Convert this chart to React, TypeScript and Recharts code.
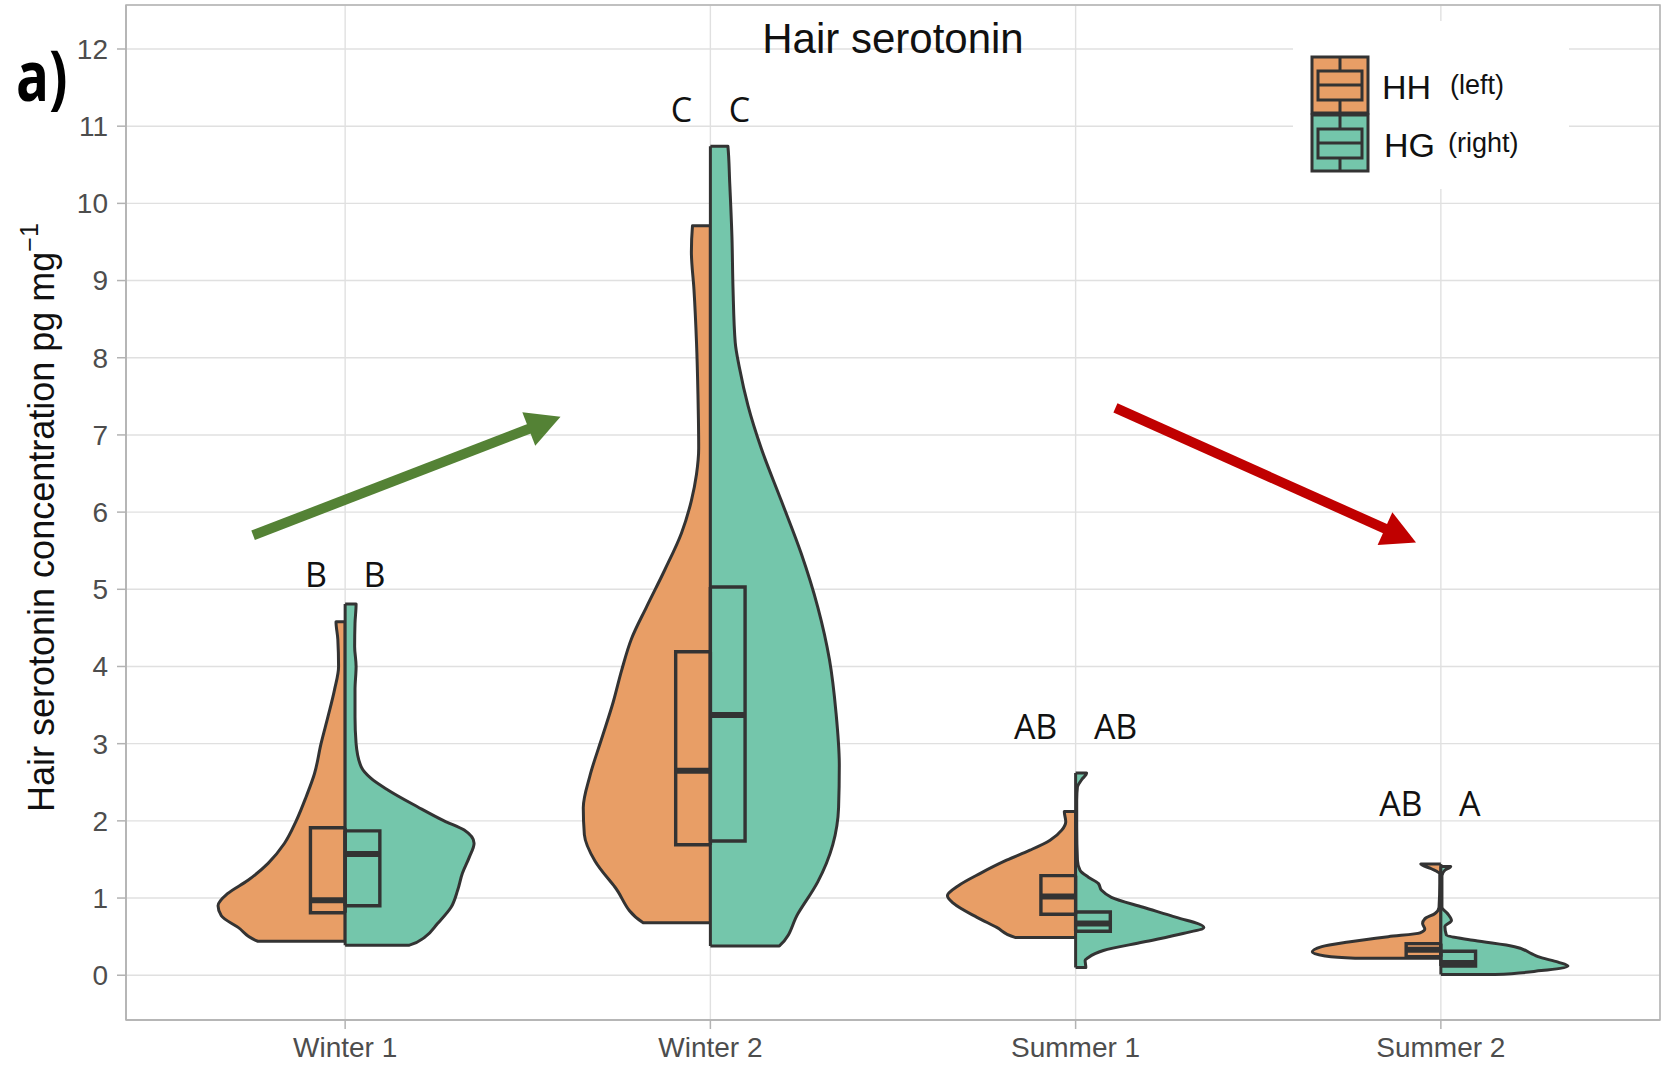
import { Area, CartesianGrid, ComposedChart, Legend, Line, ReferenceArea, XAxis, YAxis } from 'recharts';

const seasons = ['Winter 1', 'Winter 2', 'Summer 1', 'Summer 2'];
const groups = ['HH', 'HG'];
const groupNotes = ['(left)', '(right)'];
const groupFill = ['#E89E66', '#74C6AB'];
const yTicks = [0, 1, 2, 3, 4, 5, 6, 7, 8, 9, 10, 11, 12];

// violin outlines, bottom to top: [concentration, half width in category units]
const winter1HH = [[0.44, 0.239], [0.62, 0.293], [0.77, 0.339], [0.9, 0.348], [1.06, 0.321], [1.23, 0.266], [1.45, 0.211], [1.71, 0.166], [2.0, 0.134], [2.31, 0.107], [2.61, 0.084], [3.0, 0.066], [3.35, 0.047], [3.7, 0.029], [4.0, 0.018], [4.35, 0.02], [4.58, 0.025]];
const winter1HG = [[0.39, 0.176], [0.49, 0.217], [0.67, 0.253], [0.88, 0.29], [1.1, 0.308], [1.32, 0.321], [1.53, 0.34], [1.71, 0.353], [1.88, 0.326], [2.0, 0.271], [2.18, 0.199], [2.4, 0.117], [2.55, 0.071], [2.7, 0.044], [3.0, 0.03], [3.35, 0.027], [3.7, 0.027], [4.0, 0.03], [4.26, 0.026], [4.56, 0.027], [4.81, 0.03]];
const winter2HH = [[0.68, 0.184], [1.14, 0.261], [1.48, 0.316], [1.82, 0.345], [2.17, 0.348], [2.58, 0.33], [3.06, 0.298], [3.54, 0.266], [3.95, 0.243], [4.36, 0.216], [4.77, 0.175], [5.25, 0.125], [5.73, 0.079], [6.15, 0.052], [6.49, 0.038], [6.83, 0.032], [7.52, 0.034], [8.2, 0.038], [8.89, 0.045], [9.37, 0.052], [9.71, 0.049]];
const winter2HG = [[0.38, 0.189], [0.8, 0.24], [1.21, 0.294], [1.69, 0.335], [2.17, 0.351], [2.72, 0.353], [3.4, 0.344], [4.09, 0.326], [4.77, 0.294], [5.46, 0.249], [6.15, 0.194], [6.83, 0.139], [7.38, 0.103], [7.86, 0.08], [8.2, 0.068], [8.89, 0.062], [9.57, 0.059], [10.26, 0.053], [10.74, 0.048]];
const summer1HH = [[0.49, 0.166], [0.62, 0.216], [0.75, 0.27], [0.93, 0.334], [1.03, 0.351], [1.16, 0.321], [1.32, 0.261], [1.49, 0.189], [1.62, 0.125], [1.75, 0.07], [1.88, 0.038], [1.99, 0.027], [2.12, 0.031]];
const summer1HG = [[0.1, 0.028], [0.19, 0.026], [0.23, 0.035], [0.32, 0.076], [0.43, 0.185], [0.54, 0.294], [0.62, 0.351], [0.75, 0.276], [0.88, 0.185], [1.01, 0.098], [1.1, 0.071], [1.19, 0.062], [1.27, 0.035], [1.36, 0.012], [1.49, 0.005], [1.92, 0.003], [2.27, 0.003], [2.44, 0.005], [2.53, 0.016], [2.62, 0.03]];
const summer2HH = [[0.22, 0.235], [0.25, 0.317], [0.3, 0.352], [0.37, 0.326], [0.43, 0.253], [0.5, 0.144], [0.55, 0.057], [0.6, 0.044], [0.67, 0.05], [0.73, 0.044], [0.8, 0.016], [0.88, 0.005], [1.19, 0.003], [1.31, 0.003], [1.38, 0.026], [1.44, 0.055]];
const summer2HG = [[0.01, 0.148], [0.06, 0.275], [0.12, 0.348], [0.17, 0.321], [0.24, 0.266], [0.28, 0.248], [0.37, 0.202], [0.45, 0.093], [0.52, 0.015], [0.63, 0.011], [0.71, 0.029], [0.8, 0.018], [0.88, 0.003], [1.29, 0.003], [1.36, 0.011], [1.41, 0.027]];

// box plot stats per season
const hhQ1 = [0.81, 1.69, 0.79, 0.24];
const hhMedian = [0.97, 2.65, 1.02, 0.33];
const hhQ3 = [1.91, 4.19, 1.29, 0.41];
const hgQ1 = [0.9, 1.74, 0.57, 0.12];
const hgMedian = [1.57, 3.37, 0.67, 0.16];
const hgQ3 = [1.87, 5.03, 0.82, 0.31];

// significance letters (HH, HG per season)
const letters = ['B', 'B', 'C', 'C', 'AB', 'AB', 'AB', 'A'];
const letterY = [5.03, 5.03, 11.05, 11.05, 3.06, 3.06, 2.06, 2.06];

// trend arrows
const trendUp = [{ y: 5.7, v: 0.748 }, { y: 7.18, v: 1.559 }];
const trendDown = [{ y: 7.35, v: 3.109 }, { y: 5.67, v: 3.902 }];

const SIDE = [-1, 1];
const BOX_W = 0.095;
const LETTER_GAP = 0.05;
const INK = '#333333';

const profiles = [[winter1HH, winter1HG], [winter2HH, winter2HG], [summer1HH, summer1HG], [summer2HH, summer2HG]];
const q1s = [hhQ1, hgQ1];
const medians = [hhMedian, hgMedian];
const q3s = [hhQ3, hgQ3];

const violinRows = (profile: number[][], c: number, side: number) => [
  { y: profile[0][0], span: [c, c] },
  ...profile.map(([y, w]) => ({ y, span: [c, c + side * w] })),
  { y: profile[profile.length - 1][0], span: [c, c] },
];

const boxRows = (q1: number, q3: number, c: number, side: number) => [
  { y: q1, span: [c, c] },
  { y: q1, span: [c, c + side * BOX_W] },
  { y: q3, span: [c, c + side * BOX_W] },
  { y: q3, span: [c, c] },
];

const letterRows = letters.map((t, i) => {
  const side = SIDE[i % 2];
  return { y: letterY[i], v: Math.floor(i / 2) + 1 + side * LETTER_GAP, t, side };
});

const renderLetter = (p: any) => (
  <text key={`letter-${p.index}`} x={p.cx} y={p.cy} textAnchor={p.payload.side < 0 ? 'end' : 'start'}
    fontSize={34} fontFamily="Open Sans" fill="#111">
    {p.payload.t}
  </text>
);

const arrowHead = (color: string) => (p: any) => {
  if (p.index === 0) return <g key={`ah-${p.index}`} />;
  const prev = p.points ? p.points[p.index - 1] : null;
  const deg = prev ? (Math.atan2(p.cy - prev.y, p.cx - prev.x) * 180) / Math.PI : 0;
  return (
    <polygon key={`ah-${p.index}`} points="12,0 -22,-18 -22,18" fill={color}
      transform={`translate(${p.cx},${p.cy}) rotate(${deg})`} />
  );
};

const tickStyle = { fill: '#4d4d4d', fontSize: 28, fontFamily: 'Liberation Sans, Arial, sans-serif' };

const LegendBox = () => (
  <svg width={276} height={168} style={{ background: '#fff', display: 'block' }}>
    {groups.map((g, i) => {
      const top = 36 + i * 58;
      return (
        <g key={g}>
          <rect x={19} y={top} width={56} height={56} fill={groupFill[i]} stroke={INK} strokeWidth={3} />
          <line x1={47} x2={47} y1={top} y2={top + 56} stroke={INK} strokeWidth={3} />
          <rect x={25} y={top + 14} width={44} height={29} fill={groupFill[i]} stroke={INK} strokeWidth={3} />
          <line x1={25} x2={69} y1={top + 28} y2={top + 28} stroke={INK} strokeWidth={3} />
          <text x={89 + i * 2} y={top + 42} fontSize={34} fontFamily="Liberation Sans, Arial" fill="#111">{g}</text>
          <text x={157 - i * 2} y={top + 37} fontSize={27} fontFamily="Liberation Sans, Arial" fill="#111">{groupNotes[i]}</text>
        </g>
      );
    })}
  </svg>
);

export default function App() {
  return (
    <div style={{ position: 'absolute', left: 0, top: 0, width: 1676, height: 1072, background: '#fff' }}>
      <ComposedChart width={1676} height={1072} layout="vertical" margin={{ top: 5, right: 16, bottom: 0, left: 0 }}>
        <CartesianGrid stroke="#e0e0e0" strokeWidth={1.4} />
        <XAxis type="number" domain={[0.4, 4.6]} ticks={[1, 2, 3, 4]} tickFormatter={(v) => seasons[v - 1]}
          allowDataOverflow interval={0} height={52} tickSize={9} tickMargin={8} stroke="#b3b3b3" strokeWidth={1.5} tick={tickStyle} />
        <YAxis type="number" dataKey="y" domain={[-0.58, 12.57]} ticks={yTicks} allowDataOverflow interval={0} reversed
          width={126} tickSize={9} tickMargin={9} stroke="#b3b3b3" strokeWidth={1.5} tick={tickStyle} />
        <ReferenceArea x1={0.4} x2={4.6} y1={-0.58} y2={12.57} fill="none" stroke="#b3b3b3" strokeWidth={1.5} ifOverflow="visible" />
        {profiles.map((pair, s) =>
          pair.map((profile, g) => (
            <Area key={`violin-${s}-${g}`} data={violinRows(profile, s + 1, SIDE[g])} dataKey="span" type="monotone"
              fill={groupFill[g]} fillOpacity={1} stroke={INK} strokeWidth={3} strokeLinejoin="round" dot={false} activeDot={false}
              isAnimationActive={false} />
          )),
        )}
        {seasons.map((_, s) =>
          groups.map((_g, g) => (
            <Area key={`box-${s}-${g}`} data={boxRows(q1s[g][s], q3s[g][s], s + 1, SIDE[g])} dataKey="span" type="linear"
              fill="none" stroke={INK} strokeWidth={3.4} dot={false} activeDot={false} isAnimationActive={false} />
          )),
        )}
        {seasons.map((_, s) =>
          groups.map((_g, g) => (
            <Line key={`median-${s}-${g}`} data={[{ y: medians[g][s], v: s + 1 + SIDE[g] * BOX_W }, { y: medians[g][s], v: s + 1 }]}
              dataKey="v" type="linear" stroke={INK} strokeWidth={6} dot={false} activeDot={false} isAnimationActive={false} />
          )),
        )}
        <Line data={trendUp} dataKey="v" type="linear" stroke="#548235" strokeWidth={10} dot={arrowHead('#548235')}
          activeDot={false} isAnimationActive={false} />
        <Line data={trendDown} dataKey="v" type="linear" stroke="#C00000" strokeWidth={10} dot={arrowHead('#C00000')}
          activeDot={false} isAnimationActive={false} />
        <Line data={letterRows} dataKey="v" stroke="none" dot={renderLetter} activeDot={false} isAnimationActive={false} />
        <Legend layout="horizontal" verticalAlign="middle" align="center" content={() => <LegendBox />}
          wrapperStyle={{ position: 'absolute', left: 1293, top: 21, width: 276, height: 168 }} />
      </ComposedChart>
      <svg width={1676} height={1072} style={{ position: 'absolute', left: 0, top: 0, pointerEvents: 'none' }}>
        <text x={893} y={53} textAnchor="middle" fontSize={42} fontFamily="Liberation Sans, Arial" fill="#111">Hair serotonin</text>
        <text x={16} y={101} fontSize={70} fontWeight={700} fontFamily="Open Sans" fill="#000"
          transform="translate(16 0) scale(0.78 1) translate(-16 0)">a)</text>
        <text x={54} y={812} transform="rotate(-90 54 812)" fontSize={36} fontFamily="Liberation Sans, Arial" fill="#111">
          Hair serotonin concentration pg mg<tspan dy={-16} fontSize={25}>−1</tspan>
        </text>
      </svg>
    </div>
  );
}
